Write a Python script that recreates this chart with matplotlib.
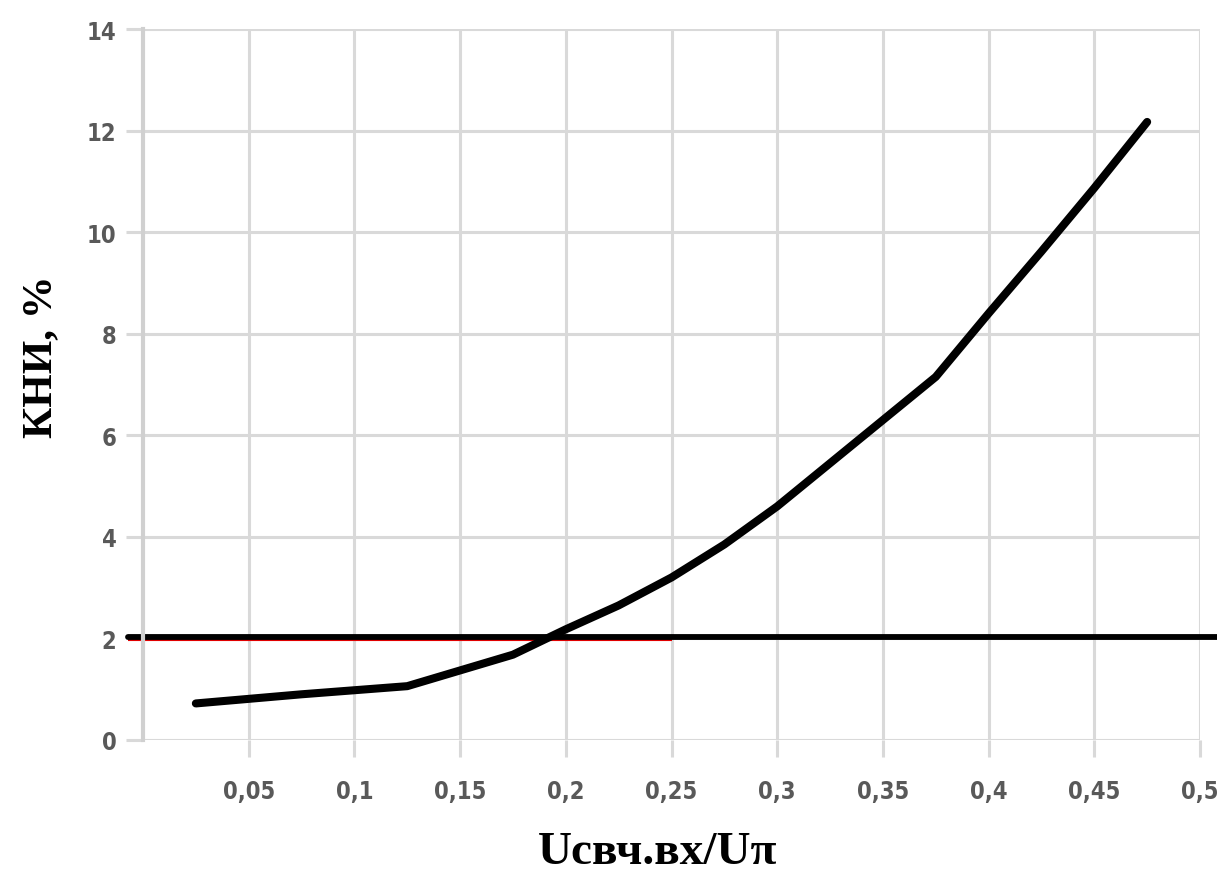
import matplotlib.pyplot as plt
import matplotlib.transforms as mtransforms

# data
x = [0.025, 0.075, 0.125, 0.175, 0.2, 0.225, 0.25, 0.275, 0.3, 0.325, 0.35, 0.375, 0.4, 0.425, 0.45, 0.475]
kni = [0.72, 0.9, 1.06, 1.68, 2.18, 2.65, 3.2, 3.85, 4.6, 5.45, 6.3, 7.15, 8.4, 9.62, 10.87, 12.17]
limit_x = [-0.007, 0.508]
limit_red_x = [-0.007, 0.25]
limit_y = 2
xticks = [0.05, 0.1, 0.15, 0.2, 0.25, 0.3, 0.35, 0.4, 0.45, 0.5]
xticklabels = ['0,05', '0,1', '0,15', '0,2', '0,25', '0,3', '0,35', '0,4', '0,45', '0,5']
yticks = [0, 2, 4, 6, 8, 10, 12, 14]

fig = plt.figure(figsize=(12.17, 8.78), dpi=100)
ax = fig.add_axes([143/1217, 137/878, 1057/1217, 711/878])

ax.set_xlim(0, 0.5)
ax.set_ylim(0, 14)
ax.set_xticks(xticks)
ax.set_xticklabels(xticklabels)
ax.set_yticks(yticks)

grid_c = '#d9d9d9'
ax.grid(True, color=grid_c, linewidth=2.2)
ax.set_axisbelow(True)
for s in ['top', 'right', 'bottom']:
    ax.spines[s].set_visible(False)
ax.spines['left'].set_color('#d0d0d0')
ax.spines['left'].set_linewidth(3)
ax.tick_params(axis='both', color=grid_c, width=2.2, length=12, labelcolor='#595959')
ax.tick_params(axis='x', pad=16)
ax.tick_params(axis='y', pad=7)
for lab in ax.get_xticklabels() + ax.get_yticklabels():
    lab.set_family(['DejaVu Sans'])
    lab.set_fontstretch('condensed')
    lab.set_fontsize(17)
    lab.set_fontweight('bold')

# threshold line: red edge under left half, black on top
ax.plot(limit_red_x, [limit_y, limit_y], color='#e00000', linewidth=4.4, clip_on=False,
        solid_capstyle='butt')
shift = mtransforms.offset_copy(ax.transData, fig=fig, y=1, units='dots')
ax.plot(limit_x, [limit_y, limit_y], color='black', linewidth=4.2, clip_on=False,
        solid_capstyle='round', transform=shift)

ax.plot(x, kni, color='black', linewidth=5.8, solid_capstyle='round', solid_joinstyle='round',
        clip_on=False)

ax.set_ylabel('КНИ, %', fontsize=31, fontweight='bold', family='Liberation Serif')
ax.yaxis.set_label_coords(-0.078, 0.54)
ax.set_xlabel('Uсвч.вх/Uπ', fontsize=34, fontweight='bold', family='Liberation Serif')
ax.xaxis.set_label_coords(0.487, -0.128)

fig.savefig('out.png', dpi=100)
